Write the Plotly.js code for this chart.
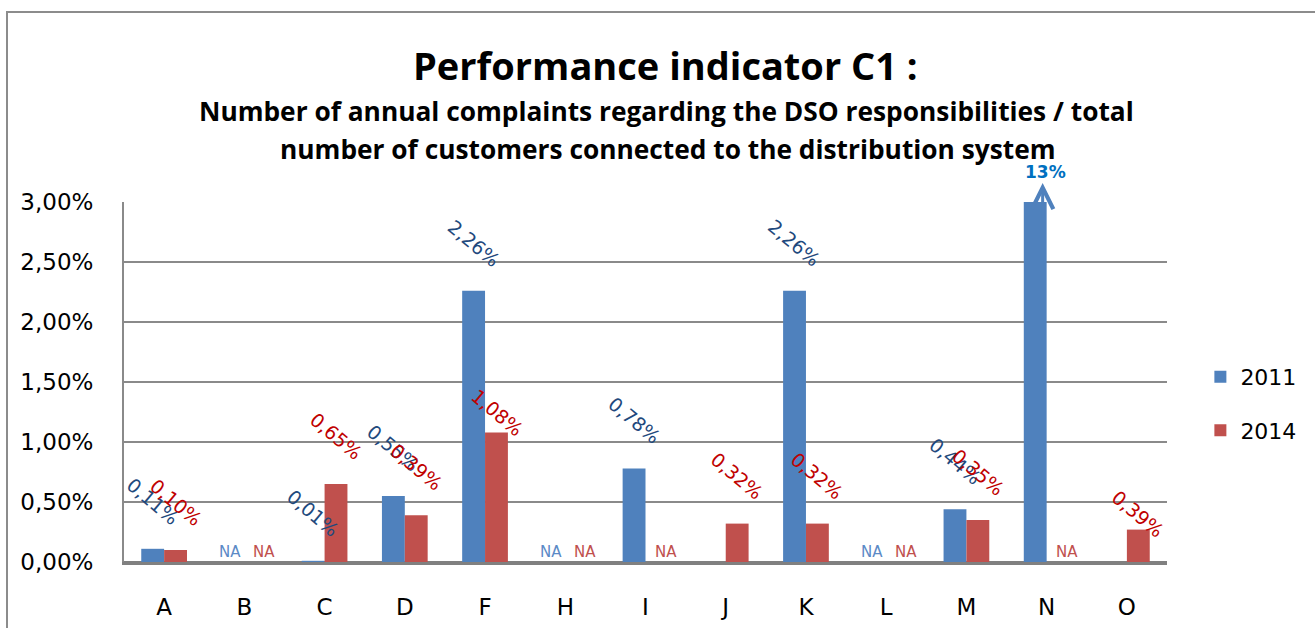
<!DOCTYPE html>
<html><head><meta charset="utf-8">
<script src="https://cdn.plot.ly/plotly-3.0.1.min.js"></script>
<style>
html,body{margin:0;padding:0;background:#fff;overflow:hidden}
#frame{position:absolute;left:6px;top:11px;width:1400px;height:700px;border-left:2px solid #8c8c8c;border-top:2px solid #8c8c8c}
#chart{position:absolute;left:0;top:0;width:1315px;height:628px}
</style></head><body>
<div id="frame"></div><div id="chart"></div>
<script>
// ---- data ----
var categories = ['A','B','C','D','F','H','I','J','K','L','M','N','O'];
var values2011 = [0.11, null, 0.01, 0.55, 2.26, null, 0.78, null, 2.26, null, 0.44, 13, null];
var values2014 = [0.10, null, 0.65, 0.39, 1.08, null, null, 0.32, 0.32, null, 0.35, null, 0.27];
var labels2011 = ['0,11%','NA','0,01%','0,55%','2,26%','NA','0,78%','','2,26%','NA','0,44%','13%',''];
var labels2014 = ['0,10%','NA','0,65%','0,39%','1,08%','NA','NA','0,32%','0,32%','NA','0,35%','NA','0,39%'];
var yTickValues = [0, 0.5, 1, 1.5, 2, 2.5, 3];
var yTickLabels = ['0,00%','0,50%','1,00%','1,50%','2,00%','2,50%','3,00%'];

// ---- styling ----
var BLUE = '#4F81BD', RED = '#C0504D';
var BLUE_LBL = '#1F497D', RED_LBL = '#C00000';
var LBL_FONT = 'DejaVu Sans, sans-serif';
var labelNudge = {'F_2014': -28, 'O_2014': -32}; // label placement tweaks (pixels)

var traces = [
  {type:'bar', name:'2011', x:categories, y:values2011, marker:{color:BLUE}, legendgroup:'a', hoverinfo:'none'},
  {type:'bar', name:'2014', x:categories, y:values2014, marker:{color:RED}, legendgroup:'b', hoverinfo:'none'}
];

var annotations = [];
function addLabels(vals, labs, dx, color, naColor, series){
  for (var i=0;i<categories.length;i++){
    var t = labs[i];
    if (!t) continue;
    if (t === 'NA'){
      annotations.push({x:categories[i], y:0, xref:'x', yref:'y', text:'NA', showarrow:false,
        xshift: dx>0 ? 20 : -14, yshift:10, font:{family:LBL_FONT, size:15, color:naColor}});
    } else if (vals[i] > 3){
      annotations.push({x:categories[i], y:1, xref:'x', yref:'paper', text:'<b>'+t+'</b>', showarrow:false,
        xshift:-1, yshift:30, yanchor:'middle', font:{family:LBL_FONT, size:17, color:'#0070C0'}});
      annotations.push({x:categories[i], y:1, xref:'x', yref:'paper', text:'', showarrow:true,
        axref:'pixel', ayref:'pixel', ax:0, ay:36, xshift:-4, yshift:19,
        arrowhead:5, arrowsize:1.4, arrowwidth:3, arrowcolor:BLUE});
    } else {
      var nudge = labelNudge[categories[i]+'_'+series] || 0;
      annotations.push({x:categories[i], y:vals[i], xref:'x', yref:'y', text:t, showarrow:false,
        textangle:40, xshift:dx, yshift:48+nudge, xanchor:'center', yanchor:'middle',
        font:{family:LBL_FONT, size:19, color:color}});
    }
  }
}
addLabels(values2011, labels2011, -11.5, BLUE_LBL, '#5B8AC6', '2011');
addLabels(values2014, labels2014, 11.5, RED_LBL, '#C0504D', '2014');

var TFONT = 'Open Sans, Liberation Sans, sans-serif';
annotations.push({xref:'paper', yref:'paper', x:0.519, y:1.0, yshift:137, text:'<b>Performance indicator C1 :</b>',
  showarrow:false, yanchor:'middle', font:{family:TFONT, size:38, color:'#000'}});
annotations.push({xref:'paper', yref:'paper', x:0.520, y:1.0, yshift:91, text:'<b>Number of annual complaints regarding the DSO responsibilities / total</b>',
  showarrow:false, yanchor:'middle', font:{family:TFONT, size:26.3, color:'#000'}});
annotations.push({xref:'paper', yref:'paper', x:0.522, y:1.0, yshift:53, text:'<b>number of customers connected to the distribution system</b>',
  showarrow:false, yanchor:'middle', font:{family:TFONT, size:26.3, color:'#000'}});

var layout = {
  width:1315, height:628,
  margin:{l:124, r:148, t:202, b:66, pad:0, autoexpand:false},
  paper_bgcolor:'rgba(0,0,0,0)', plot_bgcolor:'rgba(0,0,0,0)',
  separators:',.',
  barmode:'group', bargap:0.43, bargroupgap:0,
  showlegend:true,
  legend:{x:1.032, xanchor:'left', y:0.439, yanchor:'middle', traceorder:'grouped', tracegroupgap:22,
    font:{family:LBL_FONT, size:22, color:'#000'}, bgcolor:'rgba(0,0,0,0)'},
  xaxis:{type:'category', range:[-0.5, 12.5], showgrid:false, showline:true, linecolor:'#808080', linewidth:3,
    ticks:'', ticklabelstandoff:22, tickfont:{family:LBL_FONT, size:23, color:'#000'}, fixedrange:true},
  yaxis:{range:[0,3], tickmode:'array', tickvals:yTickValues, ticktext:yTickLabels,
    showgrid:true, gridcolor:'#8a8a8a', gridwidth:2, zeroline:true, zerolinecolor:'#808080', zerolinewidth:3,
    showline:true, linecolor:'#8a8a8a', linewidth:2, ticks:'', ticklabelstandoff:24,
    tickfont:{family:LBL_FONT, size:23, color:'#000'}, fixedrange:true},
  annotations:annotations
};

Plotly.newPlot('chart', traces, layout, {displayModeBar:false, staticPlot:true});
</script></body></html>
